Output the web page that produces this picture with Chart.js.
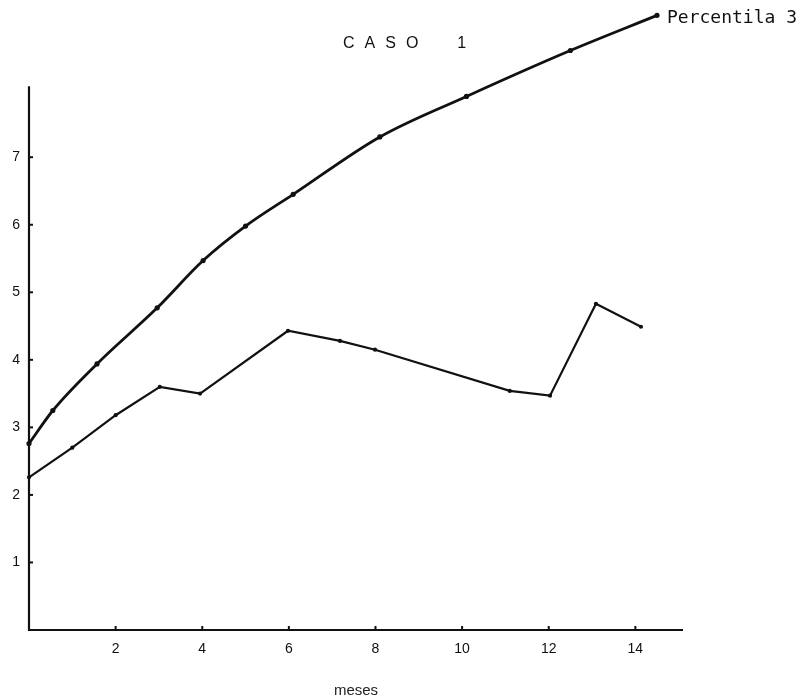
<!DOCTYPE html>
<html>
<head>
<meta charset="utf-8">
<script src="https://cdn.jsdelivr.net/npm/chart.js@4.4.1/dist/chart.umd.min.js"></script>
<style>
  html, body { margin: 0; padding: 0; background: #fff; }
  canvas { display: block; }
</style>
</head>
<body>
<canvas id="grafico" width="803" height="700"></canvas>
<script>
// curva superior (Percentila 3)
const mesesP3 = [0, 0.55, 1.57, 2.96, 4.02, 5.0, 6.1, 8.1, 10.1, 12.5, 14.5];
const valoresP3 = [2.76, 3.25, 3.94, 4.77, 5.47, 5.98, 6.45, 7.3, 7.9, 8.58, 9.1];

// curva inferior
const mesesInf = [0, 1, 2, 3.02, 3.95, 5.98, 7.18, 7.99, 11.1, 12.03, 13.09, 14.13];
const valoresInf = [2.26, 2.7, 3.18, 3.6, 3.5, 4.43, 4.28, 4.15, 3.54, 3.47, 4.83, 4.49];

const ticksX = [2, 4, 6, 8, 10, 12, 14];
const ticksY = [1, 2, 3, 4, 5, 6, 7];

const titulo = "CASO  1";
const etiquetaP3 = "Percentila 3";
const tituloX = "meses";

const fuente = "'Liberation Sans', Arial, sans-serif";

// ejes dibujados a mano: el eje y termina un poco sobre el 8
const ejes = {
    id: "ejes",
    beforeDatasetsDraw(chart) {
        const { ctx, scales: { x, y } } = chart;
        const x0 = x.getPixelForValue(0);
        const y0 = y.getPixelForValue(0);
        ctx.save();
        ctx.strokeStyle = "#111";
        ctx.lineWidth = 2.2;
        ctx.beginPath();
        ctx.moveTo(x0, y.getPixelForValue(8.05));
        ctx.lineTo(x0, y0);
        ctx.lineTo(x.getPixelForValue(15.1), y0);
        ctx.stroke();

        ctx.lineWidth = 2;
        ticksY.forEach((v) => {
            const py = y.getPixelForValue(v);
            ctx.beginPath();
            ctx.moveTo(x0, py);
            ctx.lineTo(x0 + 4, py);
            ctx.stroke();
        });
        ticksX.forEach((v) => {
            const px = x.getPixelForValue(v);
            ctx.beginPath();
            ctx.moveTo(px, y0);
            ctx.lineTo(px, y0 - 4);
            ctx.stroke();
        });
        ctx.restore();
    },
    afterDraw(chart) {
        const { ctx } = chart;
        ctx.save();
        // titulo espaciado
        ctx.fillStyle = "#111";
        ctx.font = "16px " + fuente;
        ctx.letterSpacing = "10px";
        ctx.textBaseline = "middle";
        ctx.textAlign = "left";
        ctx.fillText(titulo, 343, 44);

        // etiqueta al final de la curva superior
        const meta = chart.getDatasetMeta(0);
        const ultimo = meta.data[meta.data.length - 1];
        ctx.letterSpacing = "0px";
        ctx.font = "18px 'DejaVu Sans Mono', 'Liberation Mono', monospace";
        ctx.fillText(etiquetaP3, ultimo.x + 10, ultimo.y + 3);
        ctx.restore();
    }
};

const ctx = document.getElementById("grafico").getContext("2d");

new Chart(ctx, {
    type: "line",
    data: {
        datasets: [
            {
                label: etiquetaP3,
                data: mesesP3.map((m, i) => ({ x: m, y: valoresP3[i] })),
                borderColor: "#111",
                backgroundColor: "#111",
                borderWidth: 2.8,
                cubicInterpolationMode: "monotone",
                pointRadius: 1.2,
                clip: false,
                fill: false,
            },
            {
                label: "inferior",
                data: mesesInf.map((m, i) => ({ x: m, y: valoresInf[i] })),
                borderColor: "#111",
                backgroundColor: "#111",
                borderWidth: 2.2,
                tension: 0,
                pointRadius: 1,
                clip: false,
                fill: false,
            },
        ],
    },
    options: {
        responsive: false,
        animation: false,
        layout: { padding: { top: 0, right: 120, left: 0, bottom: 0 } },
        plugins: {
            legend: { display: false },
            tooltip: { enabled: false },
        },
        scales: {
            x: {
                type: "linear",
                min: 0,
                max: 15.1,
                afterBuildTicks: (s) => { s.ticks = ticksX.map((v) => ({ value: v })); },
                afterFit: (s) => { s.height = 70; },
                grid: { display: false, drawTicks: false },
                border: { display: false },
                ticks: {
                    padding: 11,
                    color: "#111",
                    font: { family: fuente, size: 14 },
                },
                title: {
                    display: true,
                    text: tituloX,
                    color: "#222",
                    padding: { top: 0, bottom: 0 },
                    font: { family: fuente, size: 15 },
                },
            },
            y: {
                type: "linear",
                min: 0,
                max: 9.07,
                afterBuildTicks: (s) => { s.ticks = ticksY.map((v) => ({ value: v })); },
                afterFit: (s) => { s.width = 29; },
                grid: { display: false, drawTicks: false },
                border: { display: false },
                ticks: {
                    padding: 9,
                    color: "#111",
                    font: { family: fuente, size: 14 },
                },
            },
        },
    },
    plugins: [ejes],
});
</script>
</body>
</html>
